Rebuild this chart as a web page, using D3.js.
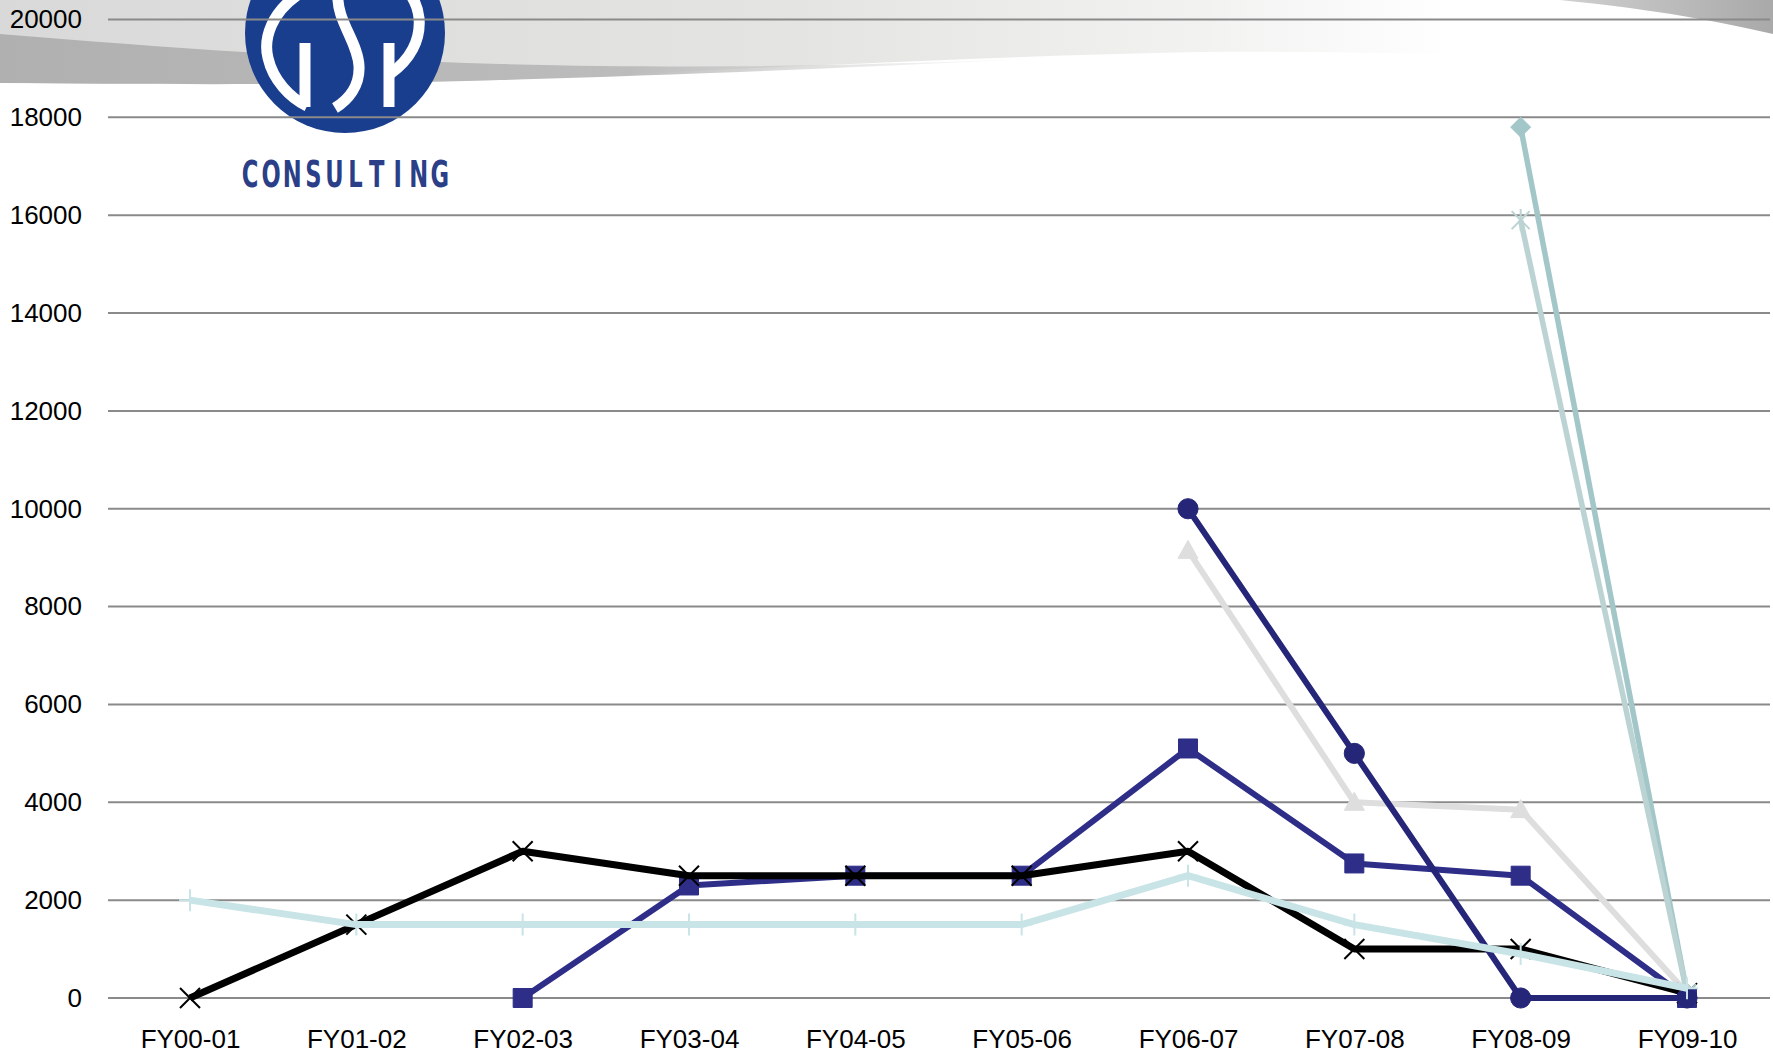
<!DOCTYPE html>
<html>
<head>
<meta charset="utf-8">
<script src="https://cdn.jsdelivr.net/npm/d3@7"></script>
<style>
  body { margin: 0; background: #fff; }
  svg { display: block; }
</style>
</head>
<body>
<svg id="chart" width="1773" height="1054"></svg>
<script>
// values, one array per series (null = no point)
const categories = ['FY00-01', 'FY01-02', 'FY02-03', 'FY03-04', 'FY04-05', 'FY05-06', 'FY06-07', 'FY07-08', 'FY08-09', 'FY09-10'];
const yTicks = [0, 2000, 4000, 6000, 8000, 10000, 12000, 14000, 16000, 18000, 20000];

const diamondValues  = [null, null, null, null, null, null, null, null, 17800, 100];
const squareValues   = [null, null, 0, 2300, 2500, 2500, 5100, 2750, 2500, 0];
const triangleValues = [null, null, null, null, null, null, 9150, 4000, 3850, 100];
const crossValues    = [0, 1500, 3000, 2500, 2500, 2500, 3000, 1000, 1000, 100];
const starValues     = [null, null, null, null, null, null, null, null, 15900, 100];
const circleValues   = [null, null, null, null, null, null, 10000, 5000, 0, 0];
const plusValues     = [2000, 1500, 1500, 1500, 1500, 1500, 2500, 1500, 900, 200];

// excel draws later series on top
const series = [
  { values: diamondValues,  color: '#a3c7c9', marker: 'diamond',  width: 5.5 },
  { values: squareValues,   color: '#2e2e88', marker: 'square',   width: 6 },
  { values: triangleValues, color: '#dedede', marker: 'triangle', width: 6 },
  { values: crossValues,    color: '#000000', marker: 'cross',    width: 7 },
  { values: starValues,     color: '#bcd3d4', marker: 'star',     width: 5.5 },
  { values: circleValues,   color: '#262679', marker: 'circle',   width: 6 },
  { values: plusValues,     color: '#c8e4e6', marker: 'plus',     width: 7 }
];

const svg = d3.select('#chart');

const x = d3.scalePoint().domain(categories).range([190, 1687]);
const y = d3.scaleLinear().domain([0, 20000]).range([998, 19.5]);

// ---- background swoosh ----
const defs = svg.append('defs');
const topGrad = defs.append('linearGradient').attr('id', 'topGrad');
topGrad.append('stop').attr('offset', '0').attr('stop-color', '#d9d9d9');
topGrad.append('stop').attr('offset', '0.45').attr('stop-color', '#e4e4e2');
topGrad.append('stop').attr('offset', '0.68').attr('stop-color', '#f2f2f1');
topGrad.append('stop').attr('offset', '0.82').attr('stop-color', '#ffffff');
topGrad.append('stop').attr('offset', '1').attr('stop-color', '#ffffff');

const bandGrad = defs.append('linearGradient').attr('id', 'bandGrad');
bandGrad.append('stop').attr('offset', '0').attr('stop-color', '#b0b0b0');
bandGrad.append('stop').attr('offset', '0.6').attr('stop-color', '#bcbcbc');
bandGrad.append('stop').attr('offset', '1').attr('stop-color', '#d6d6d4').attr('stop-opacity', 0);

const wedgeGrad = defs.append('linearGradient').attr('id', 'wedgeGrad');
wedgeGrad.append('stop').attr('offset', '0').attr('stop-color', '#d0d0d0');
wedgeGrad.append('stop').attr('offset', '1').attr('stop-color', '#a9a9a9');

svg.append('path')
  .attr('d', 'M0,0 L1773,0 L1773,72 C1600,58 1400,50 1200,52 C1000,56 800,66 500,80 C300,84 150,84 0,83 Z')
  .attr('fill', 'url(#topGrad)');

svg.append('path')
  .attr('d', 'M0,34 C150,46 300,58 500,64 C700,69 850,66 1050,58 C850,68 700,74 500,80 C300,86 150,84 0,83 Z')
  .attr('fill', 'url(#bandGrad)');

svg.append('path')
  .attr('d', 'M1560,0 L1773,0 L1773,34 C1720,22 1660,10 1560,0 Z')
  .attr('fill', 'url(#wedgeGrad)');

// ---- logo ----
const logo = svg.append('g').attr('class', 'logo');
logo.append('circle')
  .attr('cx', 345).attr('cy', 33).attr('r', 100)
  .attr('fill', '#1a3e8e');

const glyphs = [
  'M299,-6 C272,12 263,38 268,58 C273,80 290,98 307,106',  // G arc
  'M305,43 L305,107',                                      // G bar
  'M338,-6 C336,20 358,42 359,66 C360,86 348,100 335,108',  // S
  'M389,43 L389,107',                                      // P bar
  'M390,74 C410,60 421,40 419,18 C418,8 415,1 410,-6'       // P bowl
];
logo.selectAll('path.glyph')
  .data(glyphs)
  .join('path')
  .attr('class', 'glyph')
  .attr('d', d => d)
  .attr('fill', 'none')
  .attr('stroke', '#ffffff')
  .attr('stroke-width', 11);

// tall narrow letters, widely spaced
const word = 'CONSULTING'.split('');
logo.selectAll('text.word')
  .data(word)
  .join('text')
  .attr('class', 'word')
  .attr('transform', (d, i) => `translate(${250 + i * 21.1},187) scale(0.68,1)`)
  .attr('text-anchor', 'middle')
  .attr('font-family', '"Liberation Sans Narrow", "DejaVu Sans Condensed", sans-serif')
  .attr('font-weight', 'bold')
  .attr('font-size', 37)
  .attr('fill', '#2b3f88')
  .text(d => d);

// ---- grid + axes ----
svg.append('g')
  .selectAll('line')
  .data(yTicks)
  .join('line')
  .attr('x1', 108).attr('x2', 1770)
  .attr('y1', d => y(d)).attr('y2', d => y(d))
  .attr('stroke', '#8a8a8a')
  .attr('stroke-width', 2);

const yAxis = svg.append('g')
  .attr('transform', 'translate(82,0)')
  .call(d3.axisLeft(y).tickValues(yTicks).tickSize(0).tickPadding(0).tickFormat(d3.format('d')));
yAxis.select('.domain').remove();
yAxis.selectAll('text')
  .attr('font-family', '"Liberation Sans", Arial, sans-serif')
  .attr('font-size', 26)
  .attr('fill', '#000');

const xAxis = svg.append('g')
  .attr('transform', 'translate(0,1030)')
  .call(d3.axisBottom(x).tickSize(0).tickPadding(0));
xAxis.select('.domain').remove();
xAxis.selectAll('text')
  .attr('font-family', '"Liberation Sans", Arial, sans-serif')
  .attr('font-size', 26)
  .attr('fill', '#000');

// ---- markers ----
function markerPath(type) {
  switch (type) {
    case 'diamond':  return 'M0,-10 L10,0 L0,10 L-10,0 Z';
    case 'square':   return 'M-9.5,-9.5 L9.5,-9.5 L9.5,9.5 L-9.5,9.5 Z';
    case 'triangle': return 'M0,-10 L10,8 L-10,8 Z';
    case 'circle':   return d3.symbol(d3.symbolCircle, 320)();
    case 'cross':    return 'M-10,-10 L10,10 M10,-10 L-10,10';
    case 'star':     return 'M-9,-9 L9,9 M9,-9 L-9,9 M0,-11 L0,11';
    case 'plus':     return 'M0,-11 L0,11 M-11,0 L11,0';
  }
}
const openMarkers = ['cross', 'star', 'plus'];

const line = d3.line()
  .defined(d => d.value != null)
  .x(d => x(d.cat))
  .y(d => y(d.value));

series.forEach(s => {
  const points = categories.map((cat, i) => ({ cat, value: s.values[i] }));
  const g = svg.append('g').attr('class', 'series-' + s.marker);

  g.append('path')
    .datum(points)
    .attr('d', line)
    .attr('fill', 'none')
    .attr('stroke', s.color)
    .attr('stroke-width', s.width)
    .attr('stroke-linejoin', 'round');

  const open = openMarkers.includes(s.marker);
  g.selectAll('path.marker')
    .data(points.filter(d => d.value != null))
    .join('path')
    .attr('class', 'marker')
    .attr('transform', d => `translate(${x(d.cat)},${y(d.value)})`)
    .attr('d', markerPath(s.marker))
    .attr('fill', open ? 'none' : s.color)
    .attr('stroke', s.color)
    .attr('stroke-width', open ? 2 : 1);
});
</script>
</body>
</html>
